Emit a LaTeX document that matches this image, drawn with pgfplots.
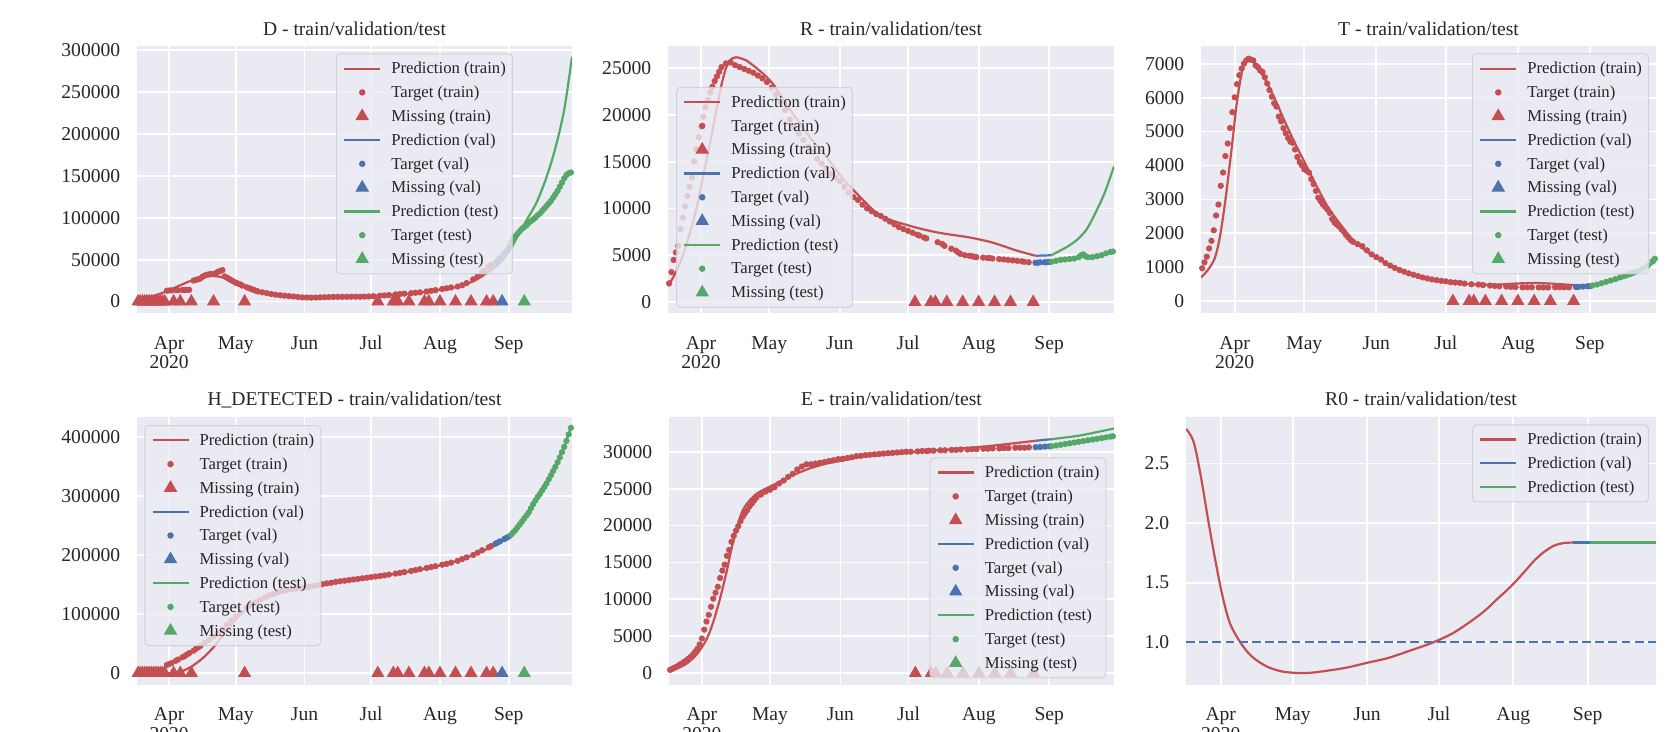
\documentclass[border=0pt]{standalone}
\usepackage{fontspec}
\setmainfont{Liberation Serif}
\usepackage{pgfplots}
\pgfplotsset{compat=1.18}
\definecolor{cR}{HTML}{C44E52}
\definecolor{cB}{HTML}{4C72B0}
\definecolor{cG}{HTML}{55A868}
\definecolor{bg}{HTML}{EAEAF2}
\definecolor{txt}{HTML}{262626}
\definecolor{legedge}{HTML}{CCCCCC}
\newcommand{\ticksize}{\fontsize{9.8}{11.5}\selectfont}
\newcommand{\legsize}{\fontsize{8.35}{10}\selectfont}
\pgfplotsset{
  leglinecode/.style={legend image code/.code={\draw[##1,fill opacity=1,draw opacity=1] (0pt,0pt) -- (18pt,0pt);}},
  legmarkcode/.style={legend image code/.code={\draw[##1,mark repeat=1,mark phase=1,fill opacity=1,draw opacity=1] plot coordinates {(9pt,0pt)};}},
  pred/.style={line width=1.1pt, smooth, no markers, leglinecode},
  tgt/.style={only marks, mark=*, mark size=1.35pt, legmarkcode},
  miss/.style={only marks, mark=triangle*, mark size=3.4pt, legmarkcode},
  every axis title/.style={at={(0.5,1)}, anchor=base, yshift=5.6pt, inner sep=0pt, font=\ticksize, text=txt},
  sb/.style={
    scale only axis,
    anchor=south west,
    axis background/.style={fill=bg},
    axis line style={draw=none},
    major tick length=0pt,
    xmajorgrids, ymajorgrids,
    grid style={white, line width=0.9pt},
    xmin=-14.5, xmax=181.5,
    xtick={0,30,61,91,122,153},
    xticklabels={Apr,May,Jun,Jul,Aug,Sep},
    extra x ticks={0}, extra x tick labels={2020},
    extra x tick style={grid=none, xticklabel style={yshift=-9.7pt}},
    xticklabel style={anchor=base, yshift=-17.9pt, inner sep=0pt},
    yticklabel style={anchor=east, xshift=-8.2pt, inner sep=0pt},
    tick label style={font=\ticksize, text=txt},
    scaled y ticks=false,
    legend cell align=left,
    legend style={draw=legedge, line width=0.5pt, fill=bg, fill opacity=0.8, draw opacity=0.8, text opacity=1,
      rounded corners=2pt, inner xsep=3.3pt, inner ysep=1.45pt, font=\legsize, text=txt,
      row sep=0pt, column sep=5pt,
      nodes={inner sep=0pt, text height=8.6pt, text depth=3.3pt}},
  },
}
\begin{document}
\begin{tikzpicture}
% ================= D =================
\begin{axis}[sb, at={(68.5pt,-156.65pt)}, width=217.5pt, height=133.4pt,
  ymin=-14000, ymax=304300,
  ytick={0,50000,100000,150000,200000,250000,300000},
  yticklabels={0,50000,100000,150000,200000,250000,300000},
  title={D - train/validation/test},
  legend style={at={(0.4575,0.9745)}, anchor=north west}]
\addplot[pred, cR] coordinates {(-14.5,2000) (-10,4500) (-5,8500) (0,13500) (5,19500) (10,25000) (15,29000) (19,30500) (23,29500) (27,26500) (32,21000) (38,15000) (45,10000) (52,7000) (60,5500) (70,5500) (80,6000) (90,7000) (100,8200) (110,10000) (120,13000) (128,16500) (134,21000) (139,27000) (143,34000) (147,41000)};
\addlegendentry{Prediction (train)}
\addplot[tgt, cR] coordinates {(-1,13000) (0,13200) (1,13400) (3,13600) (4,13600) (6,13800) (7,13800) (8,14000) (9,14000)
 (11,25000) (12,25800) (13,26500) (14,27500) (15,29500) (16,31000) (17,32000) (18,32500) (19,33000) (21,34000) (22,35500) (23,36500) (24,37500)
 (25,30000) (26,28500) (27,27000) (28,25500) (29,24000) (30,22500) (31,21500) (32,20500) (33,19000) (35,17000) (36,16000) (37,15000) (38,14000) (39,13000) (40,12000) (42,11000) (44,10000) (46,9000) (48,8200) (50,7500) (52,7000) (54,6500) (56,6000) (58,5500) (60,5000) (62,4800) (64,4700) (66,4800) (68,5000) (70,5200) (72,5400) (74,5500) (76,5600) (78,5700) (80,5700) (82,5750) (84,5800) (86,5800) (88,5900) (90,6100) (92,6400) (95,7000) (97,7300) (99,7700) (102,8500) (104,9000) (106,9400) (109,10000) (111,10500) (113,11000) (116,12000) (118,12800) (120,13600) (123,15000) (125,15800) (127,16800) (130,18000) (132,19500) (134,22000) (137,26500) (139,30500) (141,34500) (142,36500) (144,42000) (145,44000)};
\addlegendentry{Target (train)}
\addplot[miss, cR] coordinates {(-14,0) (-13,0) (-12,0) (-11,0) (-10,0) (-9,0) (-8,0) (-7,0) (-6,0) (-5,0) (-4,0) (-3,0) (-2,0) (2,0) (5,0) (10,0) (20,0) (34,0) (94,0) (101,0) (103,0) (108,0) (115,0) (117,0) (122,0) (129,0) (136,0) (143,0) (146,0)};
\addlegendentry{Missing (train)}
\addplot[pred, cB] coordinates {(147,41000) (150,49000) (154,63000)};
\addlegendentry{Prediction (val)}
\addplot[tgt, cB] coordinates {(147,46000) (148,49000) (149,52000) (151,57000) (152,60000) (153,64000)};
\addlegendentry{Target (val)}
\addplot[miss, cB] coordinates {(150,0)};
\addlegendentry{Missing (val)}
\addplot[pred, cG] coordinates {(154,63000) (157,78000) (161,97000) (165.5,118000) (169.7,146000) (173.8,181000) (178,229000) (181.5,292000)};
\addlegendentry{Prediction (test)}
\addplot[tgt, cG] coordinates {(154,70000) (155,75000) (156,78000) (157,81000) (158,84000) (159,87000) (160,89000) (161,91000) (162,94000) (163,96000) (164,98000) (165,100000) (166,103000) (167,105000) (168,108000) (169,111000) (170,114000) (171,117000) (172,120000) (173,124000) (174,128000) (175,132000) (176,137000) (177,142000) (178,147000) (179,151000) (180,153000) (181,154000)};
\addlegendentry{Target (test)}
\addplot[miss, cG] coordinates {(160,0)};
\addlegendentry{Missing (test)}
\end{axis}
% ================= R =================
\begin{axis}[sb, at={(334pt,-156.65pt)}, width=223pt, height=133.4pt,
  ymin=-1200, ymax=27300,
  ytick={0,5000,10000,15000,20000,25000},
  yticklabels={0,5000,10000,15000,20000,25000},
  title={R - train/validation/test},
  legend style={at={(0.018,0.849)}, anchor=north west}]
\addplot[pred, cR] coordinates {(-14.5,1700) (-11,3200) (-8,5000) (-5,7300) (-2,10000) (1,13500) (4,17000) (7,20800) (9,23200) (11,25000) (13,25900) (15.4,26150) (18,26000) (20,25800) (25.6,24750) (31.5,23340) (40.3,20160) (47.6,17680) (55,15550) (62,13300) (69.6,11310) (79,9200) (92,8130) (104,7430) (118,6900) (128,6360) (139,5480) (147,4950)};
\addlegendentry{Prediction (train)}
\addplot[tgt, cR] coordinates {(-14,2000) (-13,3200) (-12,4500) (-11,5300) (-10,6000) (-9,7800) (-8,9000) (-7,10200) (-6,11300) (-5,12300) (-4,13300) (-3,15000) (-2,16300) (-1,17600) (0,18700) (1,19800) (2,20800) (3,21600) (4,22400) (5,23000) (6,23600) (7,24100) (8,24600) (9,25100) (11,25500) (13,25600) (15,25300) (17,25100) (19,24900) (21,24700) (23,24500) (25,24200) (27,23900) (29,23500) (31,22900) (33,22200) (35,21400) (37,20500) (39,19500) (41,18700) (43,18000) (45,17300) (47,16600) (49,16000) (51,15300) (53,14800) (55,14300) (57,13700) (59,13300) (61,12900) (63,12300) (65,11700) (67,11200) (69,10900) (71,10400) (73,10000) (75,9700) (77,9400) (79,9200) (81,8900) (83,8600) (85,8300) (87,8000) (89,7800) (91,7600) (93,7400) (95,7200) (96,7100) (98,6900) (99,6800) (104,6400) (106,6200) (107,6000) (110,5700) (112,5500) (113,5300) (114,5150) (116,5000) (118,4950) (119,4900) (120,4850) (121,4800) (124,4750) (126,4700) (127,4700) (128,4650) (131,4600) (133,4550) (135,4500) (137,4450) (139,4400) (141,4350) (142,4300) (144,4250)};
\addlegendentry{Target (train)}
\addplot[miss, cR] coordinates {(94,0) (101,0) (103,0) (108,0) (115,0) (122,0) (129,0) (136,0) (146,0)};
\addlegendentry{Missing (train)}
\addplot[pred, cB] coordinates {(147,4950) (150,4970) (154,5000)};
\addlegendentry{Prediction (val)}
\addplot[tgt, cB] coordinates {(147,4200) (148,4200) (149,4250) (151,4250) (152,4250) (153,4300)};
\addlegendentry{Target (val)}
\addlegendimage{miss, cB}
\addlegendentry{Missing (val)}
\addplot[pred, cG] coordinates {(154,5000) (157.7,5480) (161.6,6010) (165.6,6720) (169.5,7780) (173.4,9550) (177.4,11670) (181.5,14500)};
\addlegendentry{Prediction (test)}
\addplot[tgt, cG] coordinates {(154,4300) (156,4400) (158,4500) (160,4550) (162,4600) (164,4650) (166,4800) (167,5000) (168,5100) (169,4900) (170,4800) (172,4800) (174,4900) (176,5000) (178,5200) (180,5350) (181,5400)};
\addlegendentry{Target (test)}
\addlegendimage{miss, cG}
\addlegendentry{Missing (test)}
\end{axis}
% ================= T =================
\begin{axis}[sb, at={(600.5pt,-156.65pt)}, width=227.5pt, height=133.4pt,
  ymin=-357, ymax=7507,
  ytick={0,1000,2000,3000,4000,5000,6000,7000},
  yticklabels={0,1000,2000,3000,4000,5000,6000,7000},
  title={T - train/validation/test},
  legend style={at={(0.9846,0.9745)}, anchor=north east}]
\addplot[pred, cR] coordinates {(-14.5,700) (-11.5,922) (-8.6,1263) (-6.5,1846) (-4.3,2818) (-2.2,3985) (-0.7,4860) (0.7,5735) (2.2,6417) (3.6,6902) (5.7,7147) (7.9,7097) (10,6855) (12.9,6563) (17.2,5980) (21.6,5297) (25.9,4667) (30.2,4084) (34.5,3500) (40.2,2771) (45.9,2234) (51,1800) (58.8,1370) (66.6,1070) (74.4,830) (82.2,683) (90,585) (97.7,517) (105.5,488) (113.3,488) (121.1,520) (128.9,537) (136.7,517) (147,469)};
\addlegendentry{Prediction (train)}
\addplot[tgt, cR] coordinates {(-14,971) (-13,1146) (-12,1312) (-11,1555) (-10,1779) (-9,2090) (-8,2526) (-7,2847) (-6,3401) (-5,3792) (-4,4276) (-3,4647) (-2,5105) (-1,5571) (0,6009) (1,6397) (2,6660) (3,6855) (4,7000) (5,7097) (6,7147) (7,7120) (8,7097) (9,6950) (10,6900) (11,6800) (12,6756) (13,6600) (14,6417) (15,6222) (16,6027) (17,5834) (18,5735) (19,5443) (20,5300) (21,5100) (22,4950) (23,4813) (24,4700) (25,4667) (26,4472) (27,4250) (28,4100) (29,4000) (30,3888) (31,3850) (32,3792) (33,3600) (34,3450) (35,3250) (36,3050) (37,2950) (38,2850) (39,2780) (40,2700) (41,2600) (42,2420) (43,2320) (44,2260) (45,2200) (46,2120) (47,2050) (48,1950) (49,1880) (50,1800) (51,1750) (53,1680) (55,1620) (57,1500) (59,1380) (61,1300) (63,1230) (65,1120) (67,1050) (69,980) (71,920) (73,870) (75,820) (77,780) (79,740) (81,700) (83,670) (85,640) (87,620) (89,600) (91,585) (93,560) (95,550) (97,540) (99,520) (102,500) (105,490) (107,475) (110,460) (112,450) (114,440) (117,430) (119,420) (121,415) (124,410) (126,410) (128,410) (131,405) (133,405) (135,405) (138,410) (140,410) (142,410) (144,410)};
\addlegendentry{Target (train)}
\addplot[miss, cR] coordinates {(94,0) (101,0) (103,0) (108,0) (115,0) (122,0) (129,0) (136,0) (146,0)};
\addlegendentry{Missing (train)}
\addplot[pred, cB] coordinates {(147,469) (150.5,469) (154,469)};
\addlegendentry{Prediction (val)}
\addplot[tgt, cB] coordinates {(147,420) (148,420) (150,430) (152,440) (153,440)};
\addlegendentry{Target (val)}
\addlegendimage{miss, cB}
\addlegendentry{Missing (val)}
\addplot[pred, cG] coordinates {(154,469) (163,605) (172.4,800) (181.5,1180)};
\addlegendentry{Prediction (test)}
\addplot[tgt, cG] coordinates {(154,460) (156,490) (158,530) (160,570) (162,610) (164,650) (166,700) (168,750) (170,800) (172,850) (174,900) (176,970) (178,1050) (180,1180) (181,1250)};
\addlegendentry{Target (test)}
\addlegendimage{miss, cG}
\addlegendentry{Missing (test)}
\end{axis}
% ================= H_DETECTED =================
\begin{axis}[sb, at={(68.5pt,-342.5pt)}, width=217.5pt, height=134.15pt,
  ymin=-20000, ymax=434000,
  ytick={0,100000,200000,300000,400000},
  yticklabels={0,100000,200000,300000,400000},
  title={H\_DETECTED - train/validation/test},
  legend style={at={(0.0168,0.969)}, anchor=north west}]
\addplot[pred, cR] coordinates {(-14.5,0) (2,0) (5,2000) (8,7000) (10,11000) (12.3,17000) (15,25000) (17,32000) (20,44000) (23,58000) (27,77000) (31,95000) (35,108000) (39,118000) (43,126000) (50,136000) (57.5,141800) (65,146500) (75,153500) (85,159500) (95,164500) (105,170000) (115,176500) (125,185000) (135,197000) (142,208000) (147,217000)};
\addlegendentry{Prediction (train)}
\addplot[tgt, cR] coordinates {(-1,14000) (0,15500) (1,17000) (3,21000) (4,23000) (6,27000) (7,29000) (8,31500) (9,34000) (11,38000) (12,41000) (13,43500) (14,46000) (16,51000) (18,56000) (20,62000) (22,67000) (24,74000) (26,82000) (28,89000) (30,96000) (32,103000) (35,111000) (37,116000) (39,120000) (41,124000) (43,128000) (45,131500) (47,134000) (49,137000) (51,139000) (53,140500) (55,142000) (57,143000) (59,144000) (61,145000) (63,146000) (65,147500) (67,149000) (69,150500) (71,152000) (73,153000) (75,154500) (77,155500) (79,156500) (81,157500) (83,158500) (85,159500) (87,160500) (89,161500) (91,162500) (93,163500) (95,164500) (97,165500) (99,166800) (102,168500) (104,169800) (106,171000) (109,173000) (111,174500) (113,176000) (116,178000) (118,179500) (120,181000) (123,183500) (125,185000) (127,187000) (130,190000) (132,193000) (134,196000) (137,200000) (139,204000) (141,208000) (144,213000) (145,215000)};
\addlegendentry{Target (train)}
\addplot[miss, cR] coordinates {(-14,0) (-13,0) (-12,0) (-11,0) (-10,0) (-9,0) (-8,0) (-7,0) (-6,0) (-5,0) (-4,0) (-3,0) (-2,0) (2,0) (5,0) (10,0) (34,0) (94,0) (101,0) (103,0) (108,0) (115,0) (117,0) (122,0) (129,0) (136,0) (143,0) (146,0)};
\addlegendentry{Missing (train)}
\addplot[pred, cB] coordinates {(147,217000) (150,223000) (154,232000)};
\addlegendentry{Prediction (val)}
\addplot[tgt, cB] coordinates {(147,219000) (148,221000) (149,223000) (151,227000) (152,229000) (153,231000)};
\addlegendentry{Target (val)}
\addplot[miss, cB] coordinates {(150,0)};
\addlegendentry{Missing (val)}
\addplot[pred, cG] coordinates {(154,232000) (158,250000) (162,272000) (166,298000) (170,322000) (174,350000) (178,385000) (181.5,420000)};
\addlegendentry{Prediction (test)}
\addplot[tgt, cG] coordinates {(154,234000) (155,238000) (156,242000) (157,247000) (158,252000) (159,257000) (160,262000) (161,267000) (162,272000) (163,279000) (164,286000) (165,292000) (166,298000) (167,303000) (168,309000) (169,315000) (170,321000) (171,328000) (172,335000) (173,342000) (174,349000) (175,357000) (176,365000) (177,374000) (178,383000) (179,393000) (180,404000) (181,415000)};
\addlegendentry{Target (test)}
\addplot[miss, cG] coordinates {(160,0)};
\addlegendentry{Missing (test)}
\end{axis}
% ================= E =================
\begin{axis}[sb, at={(334.5pt,-342.5pt)}, width=222.5pt, height=134.15pt,
  ymin=-1600, ymax=34750,
  ytick={0,5000,10000,15000,20000,25000,30000},
  yticklabels={0,5000,10000,15000,20000,25000,30000},
  title={E - train/validation/test},
  legend style={at={(0.983,0.8487)}, anchor=north east}]
\addplot[pred, cR] coordinates {(-14.5,225) (-7.6,1126) (-2.5,2478) (1.9,4505) (4.8,6757) (7.8,9911) (10.7,13515) (12.9,16668) (15.1,19372) (18,22075) (21.7,23651) (25.3,24552) (32.6,25679) (39.9,26805) (47.2,27706) (54.6,28381) (63.4,28900) (69.2,29282) (79.1,29550) (94.8,30000) (110.5,30360) (126.3,30770) (147,31490)};
\addlegendentry{Prediction (train)}
\addplot[tgt, cR] coordinates {(-14,450) (-13,600) (-12,750) (-11,900) (-10,1100) (-9,1300) (-8,1500) (-7,1700) (-6,1950) (-5,2200) (-4,2500) (-3,2900) (-2,3300) (-1,3900) (0,4700) (1,5900) (2,7000) (3,7900) (4,9000) (5,10100) (6,10900) (7,11700) (8,12900) (9,13900) (10,14700) (11,15900) (12,16700) (13,17800) (14,18600) (15,19300) (16,19900) (17,20600) (18,21200) (19,21700) (20,22100) (21,22600) (22,23000) (23,23400) (24,23800) (26,24200) (28,24600) (30,24850) (32,25200) (34,25700) (36,26100) (38,26600) (40,27000) (42,27600) (44,28000) (46,28300) (48,28300) (50,28400) (52,28500) (54,28600) (56,28750) (58,28850) (60,29000) (62,29050) (64,29150) (66,29250) (68,29400) (70,29450) (72,29550) (74,29600) (76,29650) (78,29700) (80,29750) (82,29800) (84,29850) (86,29900) (88,29950) (90,30000) (92,30000) (95,30050) (97,30100) (99,30100) (100,30150) (102,30150) (105,30200) (107,30200) (110,30250) (112,30250) (114,30300) (117,30300) (119,30350) (121,30350) (124,30400) (126,30400) (128,30450) (131,30450) (133,30500) (135,30500) (138,30550) (140,30550) (142,30550) (144,30600)};
\addlegendentry{Target (train)}
\addplot[miss, cR] coordinates {(94,0) (101,0) (103,0) (108,0) (115,0) (122,0) (129,0) (136,0) (146,0)};
\addlegendentry{Missing (train)}
\addplot[pred, cB] coordinates {(147,31490) (150.5,31600) (154,31700)};
\addlegendentry{Prediction (val)}
\addplot[tgt, cB] coordinates {(147,30620) (149,30650) (151,30700) (153,30720)};
\addlegendentry{Target (val)}
\addlegendimage{miss, cB}
\addlegendentry{Missing (val)}
\addplot[pred, cG] coordinates {(154,31700) (165.6,32160) (173,32600) (181.5,33150)};
\addlegendentry{Prediction (test)}
\addplot[tgt, cG] coordinates {(154,30750) (156,30850) (158,30950) (160,31050) (162,31150) (164,31250) (166,31350) (168,31450) (170,31550) (172,31650) (174,31750) (176,31850) (178,31950) (180,32050) (181,32100)};
\addlegendentry{Target (test)}
\addlegendimage{miss, cG}
\addlegendentry{Missing (test)}
\end{axis}
% ================= R0 =================
\begin{axis}[sb, at={(593pt,-342.5pt)}, width=235pt, height=134.15pt,
  ymin=0.641, ymax=2.892,
  ytick={1,1.5,2,2.5},
  yticklabels={1.0,1.5,2.0,2.5},
  title={R0 - train/validation/test},
  legend style={at={(0.985,0.9717)}, anchor=north east}]
\addplot[pred, cR] coordinates {(-14.4,2.79) (-11.3,2.68) (-8.3,2.39) (-5.3,2.03) (-2.3,1.69) (0.75,1.385) (3.8,1.16) (8.3,0.994) (12.8,0.883) (18.8,0.80) (24.9,0.757) (30.9,0.743) (36.9,0.743) (43,0.757) (52,0.785) (61,0.827) (70,0.869) (79,0.93) (88,0.994) (97,1.078) (106,1.2) (111,1.28) (115,1.357) (119,1.43) (123,1.51) (127,1.6) (131,1.69) (135,1.76) (139,1.81) (143,1.832) (147,1.836)};
\addlegendentry{Prediction (train)}
\addplot[pred, cB] coordinates {(147,1.836) (154,1.836)};
\addlegendentry{Prediction (val)}
\addplot[pred, cG] coordinates {(154,1.836) (181.5,1.836)};
\addlegendentry{Prediction (test)}
\addplot[cB, line width=1.25pt, dash pattern=on 4.4pt off 2.2pt, forget plot] coordinates {(-14.5,1) (181.5,1)};
\end{axis}
\pgfresetboundingbox
\path[use as bounding box] (0,0) rectangle (833.5pt,-366pt);
\end{tikzpicture}
\end{document}
